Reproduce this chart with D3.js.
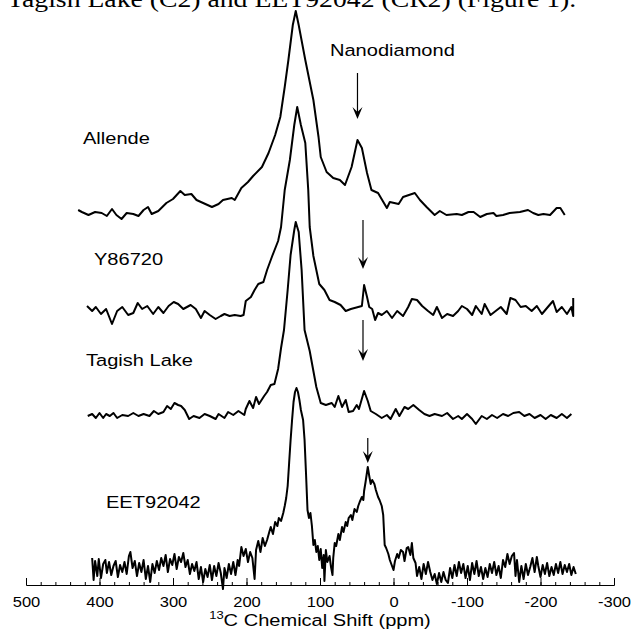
<!DOCTYPE html>
<html>
<head>
<meta charset="utf-8">
<script src="https://cdn.jsdelivr.net/npm/d3@7"></script>
<style>
body{margin:0;background:#fff;}
svg{display:block;}
</style>
</head>
<body>
<div id="chart"></div>
<script>
//13C NMR spectra, [ppm, intensity] pairs (arbitrary units)
var allende = [[429,3],[424,1],[415,-2],[406,1],[397,0],[390,-3],[383,4],[377,-2],[370,-6],[363,0],[354,-1],[347,-3],[340,3],[334,6],[329,-1],[320,2],[309,10],[300,14],[290,22],[284,18],[275,19],[268,13],[259,10],[247,6],[238,9],[232,13],[220,15],[216,13],[207,25],[198,31],[191,37],[179,46],[170,60],[161,78],[154,96],[148,126],[143,153],[137,188],[133,202],[129,188],[120,153],[109,113],[102,76],[99,56],[91,41],[82,35],[73,33],[66,28],[57,46],[49,73],[43,65],[36,40],[30,23],[21,20],[9,5],[5,11],[-7,9],[-13,16],[-29,20],[-36,13],[-45,6],[-56,-2],[-63,2],[-72,-2],[-86,-1],[-93,-2],[-102,1],[-109,1],[-118,-4],[-127,-1],[-136,0],[-140,-3],[-149,-2],[-158,0],[-172,1],[-183,3],[-190,0],[-197,-2],[-204,-1],[-213,-2],[-222,5],[-227,5],[-233,-2]];

var y86720 = [[417,4],[410,-1],[405,3],[398,-4],[391,1],[383,-14],[376,-1],[369,3],[361,-5],[354,-3],[348,7],[342,1],[335,4],[327,-4],[320,3],[313,-3],[306,4],[299,8],[293,6],[286,1],[276,5],[269,1],[262,-8],[257,-1],[250,-5],[242,-9],[235,-6],[230,-4],[223,-6],[216,-5],[208,-6],[204,-5],[201,9],[194,13],[189,20],[184,26],[177,28],[172,40],[165,54],[157,69],[153,83],[148,120],[141,150],[135,185],[131,203],[126,185],[120,167],[116,120],[114,83],[109,54],[101,26],[94,20],[87,10],[80,8],[72,5],[65,-1],[58,1],[48,3],[43,4],[40,25],[36,13],[33,3],[29,1],[25,-10],[21,-3],[16,-5],[9,-1],[2,-8],[-5,-1],[-13,-6],[-20,3],[-25,11],[-32,10],[-39,4],[-47,-1],[-54,-5],[-59,3],[-66,-8],[-73,-4],[-81,-6],[-88,-1],[-93,4],[-100,1],[-107,-5],[-112,4],[-120,-4],[-124,6],[-132,-5],[-139,-1],[-146,3],[-154,-4],[-159,12],[-166,10],[-173,3],[-180,4],[-188,-1],[-195,4],[-202,-4],[-210,3],[-217,9],[-222,-2],[-229,3],[-236,-4],[-242,3],[-244.5,-6],[-244.5,12]];

var tagish = [[416,-1],[410,1],[405,-3],[400,2],[395,-3],[391,1],[386,-1],[381,2],[376,-3],[369,0],[361,-1],[354,2],[347,-1],[340,1],[332,-1],[326,4],[320,1],[313,3],[308,9],[303,6],[298,12],[293,10],[289,9],[284,5],[278,-4],[272,-1],[264,-3],[257,1],[250,-1],[242,-4],[238,1],[230,-3],[225,3],[218,0],[211,4],[203,0],[201,6],[196,14],[191,7],[187,18],[183,11],[176,19],[172,23],[167,30],[162,31],[157,46],[153,67],[149,85],[144,125],[140,160],[135,185],[133,193],[129,183],[125,145],[121,85],[114,64],[108,40],[105,28],[99,12],[92,10],[84,12],[80,8],[75,19],[70,8],[65,15],[61,3],[55,4],[50,10],[47,6],[40,24],[35,14],[31,4],[24,1],[16,-3],[9,0],[4,-4],[-3,6],[-8,-1],[-15,8],[-20,6],[-27,10],[-35,5],[-42,1],[-49,-1],[-56,1],[-66,-1],[-73,2],[-81,-4],[-88,-1],[-93,-4],[-100,1],[-107,-4],[-112,-9],[-120,-1],[-127,-4],[-134,0],[-141,-3],[-149,1],[-156,-1],[-163,2],[-171,3],[-178,-1],[-185,1],[-192,-3],[-200,0],[-207,-4],[-214,0],[-222,-3],[-229,1],[-236,-3],[-242,1]];

var eet92042 = [[410,12],[408,-10],[406,9],[403,-6],[401,11],[398,-8],[395,6],[392,10],[390,-3],[387,8],[384,-5],[381,4],[378,9],[375,-7],[372,5],[369,-2],[366,8],[363,-4],[360,14],[358,18],[355,2],[352,9],[349,-6],[346,7],[343,-2],[340,10],[337,-9],[334,4],[331,-12],[328,6],[325,-3],[322,9],[319,0],[316,12],[313,4],[310,15],[307,-2],[304,11],[301,5],[298,16],[295,1],[292,13],[289,8],[286,17],[283,3],[280,10],[277,-4],[274,6],[271,-1],[268,8],[265,-9],[262,3],[259,-12],[256,1],[253,-7],[250,5],[247,-10],[244,4],[241,-6],[238,7],[235,-3],[232,-19],[230,2],[227,-8],[224,6],[221,-4],[218,8],[215,-5],[212,10],[210,4],[207,23],[204,14],[201,21],[198,8],[195,18],[192,12],[189,-9],[187,20],[184,29],[181,18],[178,32],[175,24],[172,30],[169,38],[167,43],[164,36],[161,48],[158,44],[156,52],[153,49],[150,57],[148,64],[146,72],[144,84],[142,107],[140,130],[138,150],[136,168],[134,178],[132,182],[130,178],[128,170],[126,160],[123,150],[121,130],[119,96],[117,60],[115,52],[113,57],[111,44],[109,25],[107,30],[105,18],[103,24],[101,10],[99,21],[97,2],[95,15],[94,-11],[92,20],[90,8],[87,14],[85,3],[83,-5],[82,12],[80,27],[78,24],[75,36],[73,30],[70,43],[68,38],[65,48],[63,44],[61,52],[58,55],[56,50],[53,61],[50,58],[48,64],[46,68],[43,73],[41,70],[40,79],[38,88],[36,98],[35,103],[33,94],[31,86],[29,90],[26,86],[24,80],[21,73],[19,70],[16,64],[14,55],[13,40],[12,25],[10,22],[7,16],[5,10],[3,6],[0,0],[-2,9],[-5,16],[-7,12],[-10,20],[-13,18],[-15,9],[-18,22],[-20,23],[-23,15],[-25,27],[-27,12],[-30,7],[-32,-6],[-35,3],[-38,-9],[-41,6],[-44,-4],[-47,8],[-50,-2],[-53,-10],[-56,-4],[-59,-14],[-62,-3],[-65,-12],[-68,-2],[-71,-10],[-74,-13],[-77,2],[-80,-8],[-83,5],[-86,-6],[-89,8],[-92,-3],[-95,6],[-98,-8],[-101,4],[-104,-10],[-107,7],[-110,-4],[-113,9],[-116,-6],[-119,3],[-122,-9],[-125,2],[-128,-7],[-131,6],[-134,-3],[-137,8],[-140,-5],[-143,4],[-146,-8],[-149,10],[-152,3],[-155,16],[-158,6],[-161,14],[-164,17],[-166,-6],[-168,10],[-171,-12],[-174,4],[-177,-9],[-180,6],[-183,-5],[-186,3],[-189,12],[-192,-2],[-195,13],[-197,4],[-200,-7],[-203,5],[-206,-4],[-209,7],[-212,-6],[-215,3],[-218,-5],[-221,6],[-224,-3],[-227,8],[-230,-4],[-233,5],[-236,-2],[-239,6],[-242,-5],[-245,3],[-248,-4]];

var samples = ['Allende','Y86720','Tagish Lake','EET92042'];
var spectra = [allende, y86720, tagish, eet92042];
var offsets = [372, 275, 170, 15];          //stacking offset of each trace
var arrowPpm = [49, 41.5, 41.5, 35];        //nanodiamond position marked on each trace
var arrowFrom = [140, 90, 95, 132];
var arrowTo = [94, 41, 54, 107];
var tickValues = [500,400,300,200,100,0,-100,-200,-300];
var tickLabels = ['500','400','300','200','100','0','-100','-200','-300'];

var W = 632, H = 639;
var SX = 1.18;   //the original figure is stretched horizontally
var sans = "'Liberation Sans', Arial, sans-serif";

var svg = d3.select('#chart').append('svg')
    .attr('width', W)
    .attr('height', H);

//scales
var x = d3.scaleLinear().domain([500,-300]).range([26,614]);
var y = d3.scaleLinear().domain([0,585]).range([585,0]);

//line generator
var line = d3.line()
    .x(function(d){ return x(d[0]); })
    .y(function(d){ return y(d[1]); });

function stretched(sel, tx, ty){
  return sel.attr('transform','translate('+tx+','+ty+') scale('+SX+',1)');
}

//caption of the page above the figure, cut off at the top
stretched(svg.append('text'), 7, 7)
    .attr('font-family', "'Liberation Serif','Times New Roman',serif")
    .attr('font-size', 23.5)
    .text('Tagish Lake (C2) and EET92042 (CR2) (Figure 1).');

//spectra
var traces = svg.selectAll('.trace')
    .data(spectra)
  .enter().append('path')
    .attr('class','trace')
    .attr('fill','none')
    .attr('stroke','#000')
    .attr('stroke-width',2)
    .attr('stroke-linejoin','round')
    .attr('d', function(d,i){
      return line(d.map(function(p){ return [p[0], p[1] + offsets[i]]; }));
    });

//sample labels
var labelPos = [[83,144],[94,265],[86,366],[106,508]];
samples.forEach(function(s,i){
  stretched(svg.append('text'), labelPos[i][0], labelPos[i][1])
      .attr('font-family', sans)
      .attr('font-size', 17)
      .text(s);
});

//nanodiamond arrows
var arrows = svg.selectAll('.arrow')
    .data(arrowPpm)
  .enter().append('g')
    .attr('class','arrow');

arrows.append('line')
    .attr('x1', function(d){ return x(d); })
    .attr('x2', function(d){ return x(d); })
    .attr('y1', function(d,i){ return y(arrowFrom[i] + offsets[i]); })
    .attr('y2', function(d,i){ return y(arrowTo[i] + offsets[i]) - 4; })
    .attr('stroke','#000')
    .attr('stroke-width',1.2);

arrows.append('path')
    .attr('fill','#000')
    .attr('d', function(d,i){
      var px = x(d), tip = y(arrowTo[i] + offsets[i]);
      return 'M'+px+','+tip+'L'+(px-5)+','+(tip-12)+'L'+px+','+(tip-7)+'L'+(px+5)+','+(tip-12)+'Z';
    });

stretched(svg.append('text'), 330, 56)
    .attr('font-family', sans)
    .attr('font-size', 17)
    .text('Nanodiamond');

//x axis: minor ticks every 20 ppm, labelled ticks every 100 ppm
var minorAxis = d3.axisBottom(x)
    .tickValues(d3.range(500,-301,-20))
    .tickSize(-3)
    .tickSizeOuter(0)
    .tickFormat('');

var majorAxis = d3.axisBottom(x)
    .tickValues(tickValues)
    .tickSize(-7)
    .tickSizeOuter(0)
    .tickPadding(12)
    .tickFormat(function(d,i){ return tickLabels[i]; });

svg.append('g')
    .attr('transform','translate(0,585)')
    .call(minorAxis);

var gx = svg.append('g')
    .attr('transform','translate(0,585)')
    .call(majorAxis);

svg.selectAll('.domain, .tick line').attr('stroke','#000').attr('stroke-width',1);
gx.selectAll('text')
    .attr('font-family', sans)
    .attr('font-size', 14)
    .attr('fill','#000')
    .attr('transform','scale('+SX+',1)');

//axis title
var title = stretched(svg.append('text'), 320, 626)
    .attr('font-family', sans)
    .attr('font-size', 17)
    .attr('text-anchor','middle');
title.append('tspan').attr('font-size',11).attr('dy',-7).text('13');
title.append('tspan').attr('dy',7).text('C Chemical Shift (ppm)');
</script>
</body>
</html>
